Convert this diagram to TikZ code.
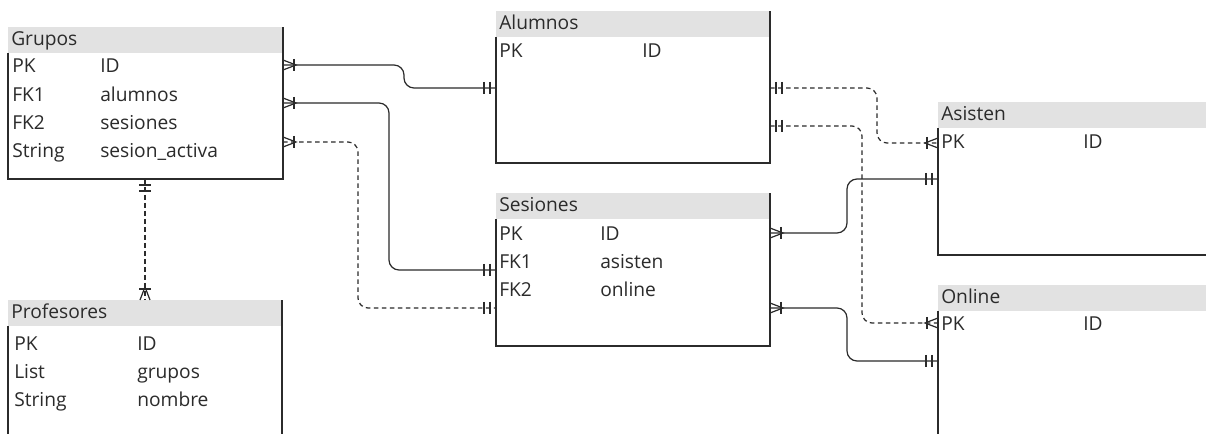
\documentclass[tikz,border=0pt]{standalone}
\usepackage{fontspec}
\setmainfont{Open Sans}
\usetikzlibrary{calc}
\definecolor{ink}{HTML}{2B2B2B}
\definecolor{headgray}{HTML}{E2E2E2}
\tikzset{
  x=0.75pt, y=-0.75pt,
  entnode/.style={inner sep=0pt, outer sep=0pt, anchor=north west, draw=none},
  border/.style={draw=ink, line width=1pt},
  txt/.style={inner sep=0pt, anchor=west, text=ink, text height=10pt, text depth=3pt, font=\fontsize{14.4}{16}\selectfont},
  rel/.style={draw=ink, line width=0.9pt, rounded corners=7.5pt},
  reldash/.style={rel, dash pattern=on 3.4pt off 2.6pt},
  mk/.style={draw=ink, line width=0.9pt},
  many/.pic={\draw[mk] (0,-5) -- (13,0) -- (0,5); \draw[mk] (11,-6) -- (11,6);},
  one/.pic={\draw[mk] (6,-6) -- (6,6); \draw[mk] (12,-6) -- (12,6);},
  onedown/.pic={\draw[mk] (-6,6) -- (6,6); \draw[mk] (-6,12) -- (6,12);},
  manyup/.pic={\draw[mk] (-5,0) -- (0,-13) -- (5,0); \draw[mk] (-6,-11) -- (6,-11);}
}
\newcommand\entbox[6]{%
  \node[entnode, minimum width={#4*0.75pt}, minimum height={#5*0.75pt}] (#1) at (#2,#3) {};
  \fill[headgray] (#1.north west) rectangle ($(#1.north east)+(0,26)$);
  \draw[border] ($(#1.north west)+(0,26)$) -- (#1.south west) -- (#1.south east) -- (#1.north east);
  \node[txt] (#1-t) at ($(#1.north west)+(3,14)$) {#6};
}
\begin{document}
\begin{tikzpicture}
\useasboundingbox (0,0) rectangle (1206,434);
\clip (0,0) rectangle (1206,434);
\fill[white] (0,0) rectangle (1206,434);

% entities
\entbox{grupos}{8}{27}{275}{152}{Grupos}
\entbox{alumnos}{496}{11}{274}{152}{Alumnos}
\entbox{sesiones}{496}{193}{274}{153}{Sesiones}
\entbox{asisten}{938}{102}{300}{153}{Asisten}
\entbox{online}{938}{285}{300}{200}{Online}
\entbox{profesores}{8}{300}{274}{200}{Profesores}

% rows
\node[txt] (g1a) at (12,68) {PK};     \node[txt] (g1b) at (100,68) {ID};
\node[txt] (g2a) at (12,97) {FK1};    \node[txt] (g2b) at (100,97) {alumnos};
\node[txt] (g3a) at (12,125) {FK2};   \node[txt] (g3b) at (100,125) {sesiones};
\node[txt] (g4a) at (12,153) {String};\node[txt] (g4b) at (100,153) {sesion\_activa};

\node[txt] (a1a) at (499,53) {PK};    \node[txt] (a1b) at (642,53) {ID};

\node[txt] (s1a) at (499,236) {PK};   \node[txt] (s1b) at (600,236) {ID};
\node[txt] (s2a) at (499,264) {FK1};  \node[txt] (s2b) at (600,264) {asisten};
\node[txt] (s3a) at (499,292) {FK2};  \node[txt] (s3b) at (600,292) {online};

\node[txt] (as1a) at (941,144) {PK};  \node[txt] (as1b) at (1083,144) {ID};
\node[txt] (o1a) at (941,326) {PK};   \node[txt] (o1b) at (1083,326) {ID};

\node[txt] (p1a) at (14,346) {PK};    \node[txt] (p1b) at (137,346) {ID};
\node[txt] (p2a) at (14,374) {List};  \node[txt] (p2b) at (137,374) {grupos};
\node[txt] (p3a) at (14,402) {String};\node[txt] (p3b) at (137,402) {nombre};

% ports
\coordinate (gA) at ($(grupos.north east)+(0,38)$);
\coordinate (gS) at ($(grupos.north east)+(0,76)$);
\coordinate (gD) at ($(grupos.north east)+(0,115)$);
\coordinate (gP) at ($(grupos.south west)+(137,0)$);
\coordinate (alG) at ($(alumnos.north west)+(0,77)$);
\coordinate (alAs) at ($(alumnos.north east)+(0,77)$);
\coordinate (alOn) at ($(alumnos.north east)+(0,115)$);
\coordinate (seG) at ($(sesiones.north west)+(0,77)$);
\coordinate (seGd) at ($(sesiones.north west)+(0,115)$);
\coordinate (seAs) at ($(sesiones.north east)+(0,40)$);
\coordinate (seOn) at ($(sesiones.north east)+(0,115)$);
\coordinate (asAl) at ($(asisten.north west)+(0,41)$);
\coordinate (asSe) at ($(asisten.north west)+(0,77)$);
\coordinate (onAl) at ($(online.north west)+(0,38)$);
\coordinate (onSe) at ($(online.north west)+(0,76)$);
\coordinate (prG) at ($(profesores.north west)+(137,0)$);

% connectors
\draw[rel] (gA) -- ++(121,0) |- (alG);
\draw[rel] (gS) -- ++(106,0) |- (seG);
\draw[reldash] (gD) -- ++(75,0) |- (seGd);
\draw[reldash] (gP) -- (prG);
\draw[reldash] (alAs) -- ++(107,0) |- (asAl);
\draw[reldash] (alOn) -- ++(92,0) |- (onAl);
\draw[rel] (seAs) -- ++(77,0) |- (asSe);
\draw[rel] (seOn) -- ++(77,0) |- (onSe);

% markers
\pic at (gA) {many};
\pic at (gS) {many};
\pic at (gD) {many};
\pic[xscale=-1] at (alG) {one};
\pic[xscale=-1] at (seG) {one};
\pic[xscale=-1] at (seGd) {one};
\pic at (alAs) {one};
\pic at (alOn) {one};
\pic[xscale=-1] at (asAl) {many};
\pic[xscale=-1] at (onAl) {many};
\pic at (seAs) {many};
\pic at (seOn) {many};
\pic[xscale=-1] at (asSe) {one};
\pic[xscale=-1] at (onSe) {one};
\pic at (gP) {onedown};
\pic at (prG) {manyup};
\end{tikzpicture}
\end{document}
